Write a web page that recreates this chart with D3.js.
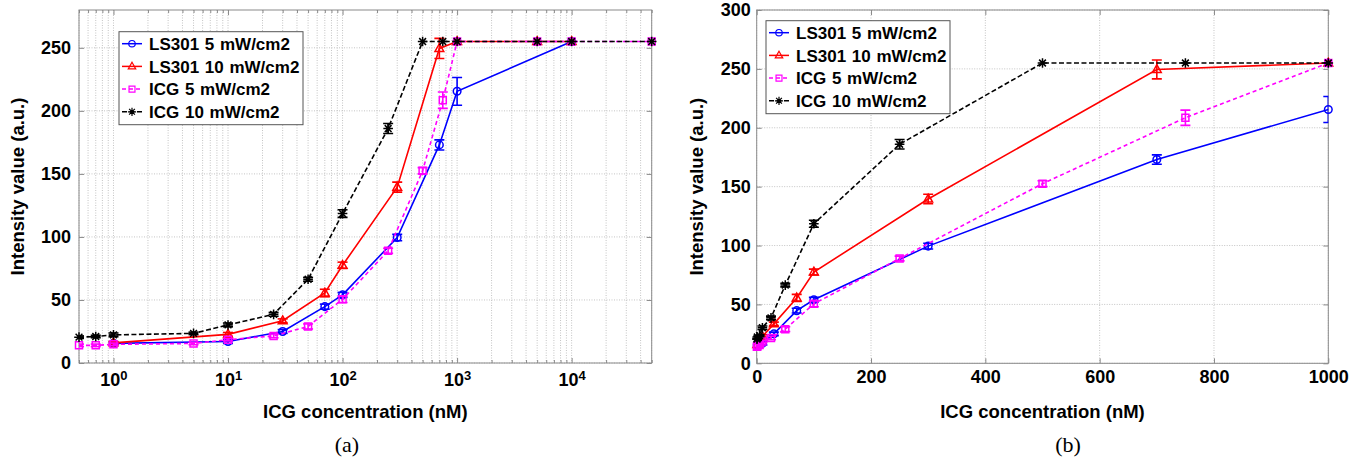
<!DOCTYPE html>
<html>
<head>
<meta charset="utf-8">
<script src="https://cdn.jsdelivr.net/npm/d3@7"></script>
<style>
body { margin: 0; background: #fff; }
svg { display: block; }
</style>
</head>
<body>
<div id="chart"></div>
<script>
// ICG concentration (nM), intensity value (a.u.) and error for each series
var ls5Conc = [1, 10, 30, 70, 100, 300, 700, 1000, 10000];
var ls5Value = [15.6, 17, 25, 44.7, 54, 99.5, 173, 215.5, 255];
var ls5Err = [1, 1.5, 1.5, 2, 2, 2.5, 4, 11, 0];

var ls10Conc = [1, 10, 30, 70, 100, 300, 700, 1000, 5000, 10000];
var ls10Value = [16, 22.7, 33.5, 55.5, 77.5, 139.5, 249.5, 255, 255, 255];
var ls10Err = [1, 1.5, 1.5, 3, 2.5, 4, 8, 0, 0, 0];

var icg5Conc = [0.5, 0.7, 1, 5, 10, 25, 50, 100, 250, 500, 750, 1000, 5000, 10000, 50000];
var icg5Value = [14, 14, 14.8, 15.5, 18.5, 21.5, 29, 50.5, 89, 152.5, 208.5, 255, 255, 255, 255];
var icg5Err = [1, 1, 1, 1, 1, 1.5, 2, 2.5, 2, 2.5, 6.5, 0, 0, 0, 0];

var icg10Conc = [0.5, 0.7, 1, 5, 10, 25, 50, 100, 250, 500, 750, 1000, 5000, 10000, 50000];
var icg10Value = [20.5, 21, 22.3, 23.5, 30.2, 38.6, 66.4, 118.5, 186, 255, 255, 255, 255, 255, 255];
var icg10Err = [1, 1, 1.5, 1, 1.5, 1.5, 1.5, 3, 4, 0, 0, 0, 0, 0, 0];

var seriesNames = ["LS301 5 mW/cm2", "LS301 10 mW/cm2", "ICG 5 mW/cm2", "ICG 10 mW/cm2"];

// axis ticks and labels
var logTicks = [1, 10, 100, 1000, 10000];
var leftYTicks = [0, 50, 100, 150, 200, 250];
var rightXTicks = [0, 200, 400, 600, 800, 1000];
var rightYTicks = [0, 50, 100, 150, 200, 250, 300];
var xTitle = "ICG concentration (nM)";
var yTitle = "Intensity value (a.u.)";
var captions = ["(a)", "(b)"];

var svgWidth = 1358;
var svgHeight = 465;
var sansFont = "'Liberation Sans', Arial, Helvetica, sans-serif";
var serifFont = "'Liberation Serif', 'Times New Roman', serif";

var svg = d3.select("#chart")
    .append("svg")
    .attr("width", svgWidth)
    .attr("height", svgHeight);

var markerPaths = {
  circle: "M3.8,0A3.8,3.8 0 1,1 -3.8,0A3.8,3.8 0 1,1 3.8,0Z",
  triangle: "M0,-4.8L4.4,3H-4.4Z",
  square: "M-3.5,-3.5H3.5V3.5H-3.5Z",
  star: "M-4.8,0H4.8M0,-4.8V4.8M-3.4,-3.4L3.4,3.4M-3.4,3.4L3.4,-3.4"
};

function toPoints(xs, ys, es) {
  return xs.map(function(v, i) { return {x: v, y: ys[i], e: es[i]}; });
}

var series = [
  {name: seriesNames[0], pts: toPoints(ls5Conc, ls5Value, ls5Err), color: "#0000ff", marker: "circle", dash: null},
  {name: seriesNames[1], pts: toPoints(ls10Conc, ls10Value, ls10Err), color: "#ff0000", marker: "triangle", dash: null},
  {name: seriesNames[2], pts: toPoints(icg5Conc, icg5Value, icg5Err), color: "#ff00ff", marker: "square", dash: "4,3"},
  {name: seriesNames[3], pts: toPoints(icg10Conc, icg10Value, icg10Err), color: "#000000", marker: "star", dash: "5,2.5"}
];

function drawPanel(p) {
  var x = p.x, y = p.y;
  var left = x.range()[0], right = x.range()[1];
  var top = y.range()[1], bottom = y.range()[0];
  var g = svg.append("g");

  svg.append("clipPath").attr("id", p.id + "-clip")
    .append("rect")
    .attr("x", left).attr("y", top)
    .attr("width", right - left).attr("height", bottom - top);

  // dotted grid
  var grid = g.append("g")
    .attr("stroke", "#c4c4c4")
    .attr("stroke-width", 1)
    .attr("stroke-dasharray", "1,1.5");
  grid.selectAll(".gx").data(p.gridX).join("line")
    .attr("x1", d => x(d)).attr("x2", d => x(d))
    .attr("y1", top).attr("y2", bottom);
  grid.selectAll(".gy").data(p.yTicks).join("line")
    .attr("x1", left).attr("x2", right)
    .attr("y1", d => y(d)).attr("y2", d => y(d));

  // axes with inward ticks
  var xAxis = g.append("g")
    .attr("transform", `translate(0, ${bottom})`)
    .call(d3.axisBottom(x).tickValues(p.xTicks).tickSize(-5).tickPadding(p.xPad).tickFormat(p.xFormat));
  g.append("g")
    .attr("transform", `translate(0, ${top})`)
    .call(d3.axisTop(x).tickValues(p.xTicks).tickSize(-5).tickFormat(""));
  var yAxis = g.append("g")
    .attr("transform", `translate(${left}, 0)`)
    .call(d3.axisLeft(y).tickValues(p.yTicks).tickSize(-5).tickPadding(p.yPad));
  g.append("g")
    .attr("transform", `translate(${right}, 0)`)
    .call(d3.axisRight(y).tickValues(p.yTicks).tickSize(-5).tickFormat(""));

  if (p.minorX) {
    g.append("g")
      .attr("transform", `translate(0, ${bottom})`)
      .call(d3.axisBottom(x).tickValues(p.minorX).tickSize(-3).tickFormat(""));
    g.append("g")
      .attr("transform", `translate(0, ${top})`)
      .call(d3.axisTop(x).tickValues(p.minorX).tickSize(-3).tickFormat(""));
  }

  g.selectAll(".domain").remove();
  g.selectAll(".tick line").attr("stroke", "#8a8a8a");
  g.selectAll("text")
    .attr("fill", "#000")
    .style("font-family", sansFont)
    .style("font-size", "18px")
    .style("font-weight", "bold");

  // log labels as 10^n
  if (p.log) {
    xAxis.selectAll(".tick text").each(function(d) {
      var t = d3.select(this).text("");
      t.append("tspan").text("10");
      t.append("tspan").text(Math.round(Math.log10(d)))
        .attr("dy", "-0.45em")
        .style("font-size", "13px");
    });
  }

  // frame
  g.append("rect")
    .attr("x", left).attr("y", top)
    .attr("width", right - left).attr("height", bottom - top)
    .attr("fill", "none")
    .attr("stroke", "#8a8a8a")
    .attr("stroke-width", 1);

  // series
  var line = d3.line().x(d => x(d.x)).y(d => y(d.y));
  var plot = g.append("g");
  series.forEach(function(s) {
    var clipped = plot.append("g").attr("clip-path", `url(#${p.id}-clip)`);
    clipped.append("path")
      .datum(s.pts)
      .attr("d", line)
      .attr("fill", "none")
      .attr("stroke", s.color)
      .attr("stroke-width", 1.6)
      .attr("stroke-dasharray", s.dash);

    var bars = s.pts.filter(d => d.e > 0);
    var eb = clipped.append("g").attr("stroke", s.color).attr("stroke-width", 1.6);
    eb.selectAll(".eb").data(bars).join("line")
      .attr("x1", d => x(d.x)).attr("x2", d => x(d.x))
      .attr("y1", d => y(d.y - d.e)).attr("y2", d => y(d.y + d.e));
    eb.selectAll(".cap-top").data(bars).join("line")
      .attr("x1", d => x(d.x) - 5).attr("x2", d => x(d.x) + 5)
      .attr("y1", d => y(d.y + d.e)).attr("y2", d => y(d.y + d.e));
    eb.selectAll(".cap-bot").data(bars).join("line")
      .attr("x1", d => x(d.x) - 5).attr("x2", d => x(d.x) + 5)
      .attr("y1", d => y(d.y - d.e)).attr("y2", d => y(d.y - d.e));

    var dom = x.domain();
    plot.append("g").selectAll("path")
      .data(s.pts.filter(d => d.x >= dom[0] && d.x <= dom[1]))
      .join("path")
      .attr("transform", d => `translate(${x(d.x)}, ${y(d.y)})`)
      .attr("d", markerPaths[s.marker])
      .attr("fill", "none")
      .attr("stroke", s.color)
      .attr("stroke-width", 1.5);
  });

  // axis titles
  g.append("text")
    .attr("x", (left + right) / 2)
    .attr("y", 418)
    .attr("text-anchor", "middle")
    .style("font-family", sansFont)
    .style("font-size", "18.5px")
    .style("font-weight", "bold")
    .text(xTitle);
  g.append("text")
    .attr("transform", `translate(${p.yTitleX}, ${(top + bottom) / 2}) rotate(-90)`)
    .attr("text-anchor", "middle")
    .attr("dy", "0.35em")
    .style("font-family", sansFont)
    .style("font-size", "18.5px")
    .style("font-weight", "bold")
    .text(yTitle);

  // caption
  g.append("text")
    .attr("x", p.captionX)
    .attr("y", 452)
    .attr("text-anchor", "middle")
    .style("font-family", serifFont)
    .style("font-size", "22px")
    .text(p.caption);

  // legend
  var lg = g.append("g").attr("transform", `translate(${p.legend[0]}, ${p.legend[1]})`);
  lg.append("rect")
    .attr("width", 184).attr("height", 93)
    .attr("fill", "#fff")
    .attr("stroke", "#555")
    .attr("stroke-width", 1);
  series.forEach(function(s, i) {
    var ry = 12 + i * 22.7;
    lg.append("line")
      .attr("x1", 3).attr("x2", 23)
      .attr("y1", ry).attr("y2", ry)
      .attr("stroke", s.color)
      .attr("stroke-width", 1.5)
      .attr("stroke-dasharray", s.dash);
    lg.append("path")
      .attr("transform", `translate(13, ${ry}) scale(0.85)`)
      .attr("d", markerPaths[s.marker])
      .attr("fill", "none")
      .attr("stroke", s.color)
      .attr("stroke-width", 1.4);
    lg.append("text")
      .attr("x", 30).attr("y", ry)
      .attr("dy", "0.36em")
      .style("font-family", sansFont)
      .style("font-size", "17px")
      .style("font-weight", "bold")
      .style("word-spacing", "1px")
      .text(s.name);
  });
}

// (a) log x axis
var xLog = d3.scaleLog().domain([0.5, 50000]).range([79, 651.7]);
var yLeft = d3.scaleLinear().domain([0, 280]).range([363, 10]);
var logMinor = xLog.ticks().filter(d => logTicks.indexOf(d) < 0);

drawPanel({
  id: "pa", x: xLog, y: yLeft, log: true,
  xTicks: logTicks, minorX: logMinor, gridX: xLog.ticks(),
  yTicks: leftYTicks, xPad: 10, yPad: 8, xFormat: null,
  yTitleX: 18, caption: captions[0], captionX: 347, legend: [119, 31.7]
});

// (b) linear x axis
var xLin = d3.scaleLinear().domain([0, 1000]).range([756.7, 1328.3]);
var yRight = d3.scaleLinear().domain([0, 300]).range([363.3, 10]);

drawPanel({
  id: "pb", x: xLin, y: yRight, log: false,
  xTicks: rightXTicks, minorX: null, gridX: rightXTicks,
  yTicks: rightYTicks, xPad: 7, yPad: 6, xFormat: d3.format("d"),
  yTitleX: 697, caption: captions[1], captionX: 1068, legend: [766, 20.7]
});
</script>
</body>
</html>
